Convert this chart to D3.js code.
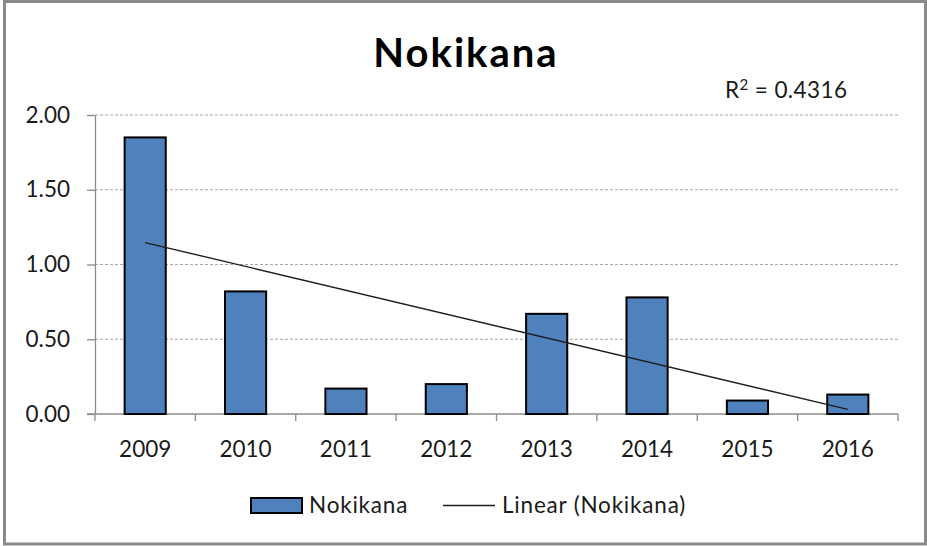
<!DOCTYPE html>
<html>

<head>
    <meta charset="utf-8">
    <title>Nokikana</title>
    <script src="https://d3js.org/d3.v7.min.js"></script>
</head>
<style>
    body {
        margin: 0;
        background: #fff;
    }

    svg {
        display: block;
    }

    text {
        font-family: Lato, sans-serif;
        font-size: 22.5px;
        fill: #1a1a1a;
    }

    .chart-title {
        font-size: 40px;
        font-weight: bold;
        fill: #000;
        text-anchor: middle;
        letter-spacing: 2px;
    }

    .legend text {
        letter-spacing: 0.8px;
    }

    .grid line {
        stroke: #a6a6a6;
        stroke-width: 1px;
        stroke-dasharray: 3, 2;
    }

    .axis path,
    .axis line {
        stroke: #8c8c8c;
        stroke-width: 1.3px;
    }

    .bar {
        fill: #4f81bd;
        stroke: #000;
        stroke-width: 2px;
    }

    .trend {
        fill: none;
        stroke: #1e1e1e;
        stroke-width: 1.4px;
    }
</style>

<body>
    <svg width="927" height="546"></svg>

    <script>
        // chart data
        const years = ['2009', '2010', '2011', '2012', '2013', '2014', '2015', '2016'];
        const values = [1.85, 0.82, 0.17, 0.20, 0.67, 0.78, 0.09, 0.13];
        const yTicks = [0, 0.5, 1.0, 1.5, 2.0];
        const seriesName = 'Nokikana';
        const trendName = 'Linear (Nokikana)';
        const rSquared = '0.4316';

        const W = 927, H = 546;
        const margin = { top: 115, right: 29, bottom: 132, left: 95 };
        const width = W - margin.left - margin.right;
        const height = H - margin.top - margin.bottom;

        const root = d3.select("svg");

        // outer frame
        root.append("rect")
            .attr("x", 4.5)
            .attr("y", 1.5)
            .attr("width", 921)
            .attr("height", 542.5)
            .attr("fill", "#fff")
            .attr("stroke", "#8a8a8a")
            .attr("stroke-width", 3);

        root.append("text")
            .attr("class", "chart-title")
            .attr("x", 466)
            .attr("y", 67)
            .text(seriesName);

        root.append("text")
            .attr("x", 725)
            .attr("y", 98)
            .style("letter-spacing", "0.4px")
            .html("R<tspan dy='-8' font-size='15px'>2</tspan><tspan dy='8'> = " + rSquared + "</tspan>");

        const svg = root.append("g")
            .attr("transform", `translate(${margin.left},${margin.top})`);

        const xScale = d3.scaleBand()
            .domain(years)
            .range([0, width])
            .paddingInner(0.59)
            .paddingOuter(0.295);

        const yScale = d3.scaleLinear()
            .domain([0, 2])
            .range([height, 0]);

        // dashed gridlines
        svg.append("g")
            .attr("class", "grid")
            .selectAll("line")
            .data(yTicks.filter(d => d > 0))
            .enter()
            .append("line")
            .attr("x1", 0)
            .attr("x2", width)
            .attr("y1", d => yScale(d))
            .attr("y2", d => yScale(d));

        // y axis
        const yAxis = d3.axisLeft(yScale)
            .tickValues(yTicks)
            .tickFormat(d3.format(".2f"))
            .tickSize(8)
            .tickSizeOuter(0)
            .tickPadding(17);
        const yg = svg.append("g")
            .attr("class", "axis")
            .call(yAxis);
        yg.selectAll("text").style("font-size", "22.5px").attr("fill", "#1a1a1a");

        // x axis: ticks at the category boundaries
        const xAxisLine = svg.append("g")
            .attr("class", "axis")
            .attr("transform", `translate(0,${height})`);
        xAxisLine.append("line")
            .attr("x1", -8)
            .attr("x2", width);
        const step = xScale.step();
        const bounds = years.map((d, i) => i * step).concat([width]);
        xAxisLine.selectAll(".tick-mark")
            .data(bounds)
            .enter()
            .append("line")
            .attr("class", "tick-mark")
            .attr("x1", d => d)
            .attr("x2", d => d)
            .attr("y1", 0)
            .attr("y2", 7);
        xAxisLine.selectAll(".xlab")
            .data(years)
            .enter()
            .append("text")
            .attr("class", "xlab")
            .attr("x", d => xScale(d) + xScale.bandwidth() / 2)
            .attr("y", 42.5)
            .attr("text-anchor", "middle")
            .text(d => d);

        // bars
        svg.selectAll(".bar")
            .data(values)
            .enter()
            .append("rect")
            .attr("class", "bar")
            .attr("x", (d, i) => xScale(years[i]))
            .attr("y", d => yScale(d))
            .attr("width", xScale.bandwidth())
            .attr("height", d => height - yScale(d));

        // linear trend (least squares)
        const xs = values.map((d, i) => i + 1);
        const mx = d3.mean(xs), my = d3.mean(values);
        const slope = d3.sum(xs, (x, i) => (x - mx) * (values[i] - my)) / d3.sum(xs, x => (x - mx) * (x - mx));
        const icpt = my - slope * mx;
        const trendPts = [0, years.length - 1].map(i => [
            xScale(years[i]) + xScale.bandwidth() / 2,
            yScale(icpt + slope * (i + 1))
        ]);
        svg.append("path")
            .attr("class", "trend")
            .attr("d", d3.line()(trendPts));

        // legend
        const legend = root.append("g").attr("class", "legend");
        legend.append("rect")
            .attr("class", "bar")
            .attr("x", 251)
            .attr("y", 498)
            .attr("width", 51)
            .attr("height", 15);
        legend.append("text")
            .attr("x", 309)
            .attr("y", 513)
            .text(seriesName);
        legend.append("line")
            .attr("x1", 443)
            .attr("x2", 495)
            .attr("y1", 505.5)
            .attr("y2", 505.5)
            .attr("stroke", "#1e1e1e")
            .attr("stroke-width", 1.4);
        legend.append("text")
            .attr("x", 502)
            .attr("y", 513)
            .text(trendName);
    </script>
</body>

</html>
